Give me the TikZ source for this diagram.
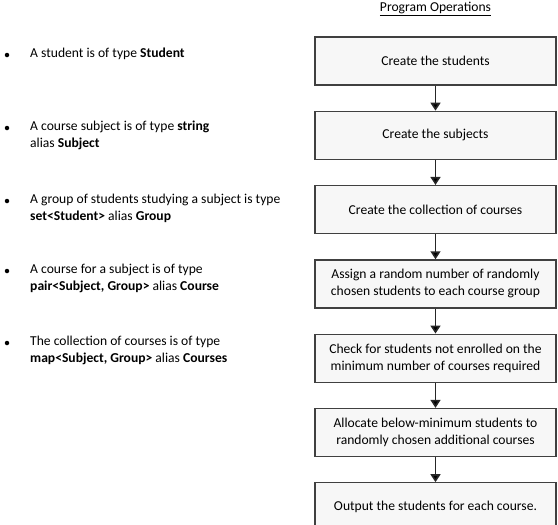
\documentclass[tikz,border=0pt]{standalone}
\usepackage{fontspec}
\setmainfont{Carlito}
\usetikzlibrary{positioning,arrows.meta}

\begin{document}
\begin{tikzpicture}[x=1pt,y=1pt,node distance=25pt,
                    font=\fontsize{13.6pt}{17pt}\selectfont,
                    op node/.style={rectangle,draw=black!75,line width=1.3pt,fill=black!3,
                                    minimum width=241pt,minimum height=48pt,align=center,inner sep=2pt},
                    item/.style={anchor=west,align=left,inner sep=0pt},
                    dot/.style={circle,fill=black,inner sep=0pt,minimum size=4.5pt}]
  \useasboundingbox (0,0) rectangle (558,-525);

  % program operations
  \node (title) at (435.5,-9) {\underline{Program Operations}};
  \node[op node] (1) at (435.5,-61) {Create the students};
  \node[op node] (2) [below=of 1] {Create the subjects};
  \node[op node] (3) [below=of 2] {Create the collection of courses};
  \node[op node] (4) [below=of 3] {Assign a random number of randomly\\chosen students to each course group};
  \node[op node] (5) [below=of 4] {Check for students not enrolled on the\\minimum number of courses required};
  \node[op node] (6) [below=of 5] {Allocate below-minimum students to\\randomly chosen additional courses};
  \node[op node] (7) [below=of 6] {Output the students for each course.};

  \path[-{Triangle[length=8pt,width=10pt]},line width=1.6pt,draw=black!85]
    (1) edge (2)
    (2) edge (3)
    (3) edge (4)
    (4) edge (5)
    (5) edge (6)
    (6) edge (7);

  % types
  \node[dot] (d1) at (7,-55) {};
  \node[dot] (d2) at (7,-128) {};
  \node[dot] (d3) at (7,-201) {};
  \node[dot] (d4) at (7,-271) {};
  \node[dot] (d5) at (7,-343) {};
  \node[item] (t1) at (30,-54) {A student is of type \textbf{Student}};
  \node[item] (t2) at (30,-135.5) {A course subject is of type \textbf{string}\\alias \textbf{Subject}};
  \node[item] (t3) at (30,-208.5) {A group of students studying a subject is type\\\textbf{set<Student>} alias \textbf{Group}};
  \node[item] (t4) at (30,-278.5) {A course for a subject is of type\\\textbf{pair<Subject, Group>} alias \textbf{Course}};
  \node[item] (t5) at (30,-350.5) {The collection of courses is of type\\\textbf{map<Subject, Group>} alias \textbf{Courses}};

\end{tikzpicture}
\end{document}
